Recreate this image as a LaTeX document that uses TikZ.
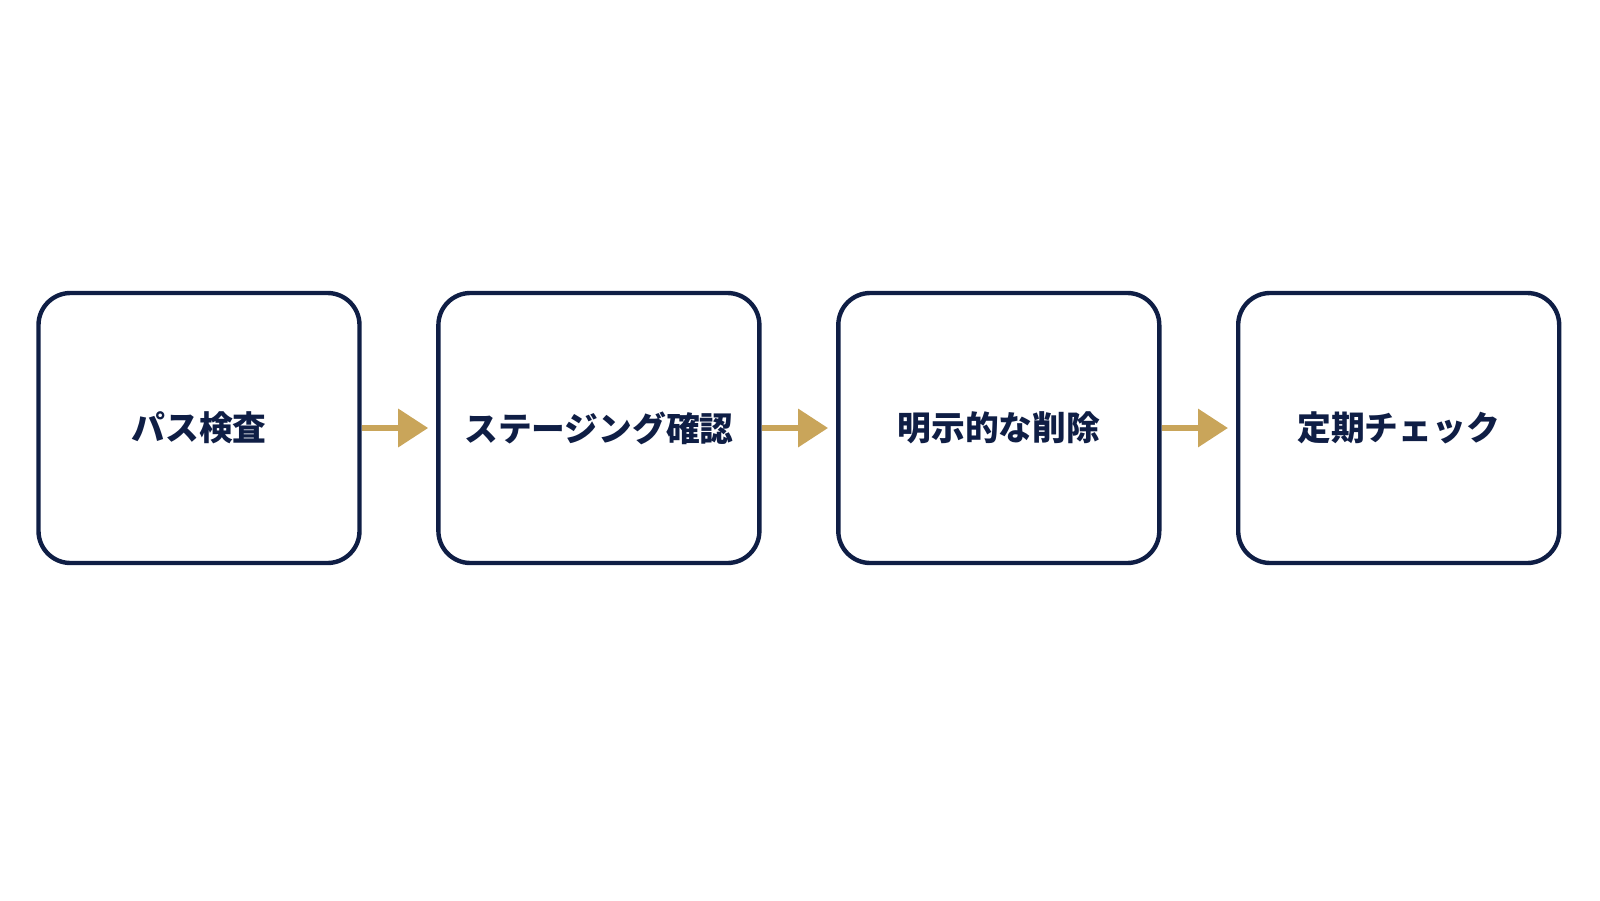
\documentclass[tikz,border=0pt]{standalone}
\usepackage{fontspec}
\newfontfamily\jpfont{Noto Sans CJK JP}
\usetikzlibrary{positioning, arrows.meta}
\definecolor{navy}{HTML}{0F1E45}
\definecolor{gold}{HTML}{C9A55A}
\begin{document}
\begin{tikzpicture}[
            box/.style={rectangle,rounded corners=3.2mm,draw=navy,line width=1.25pt,minimum width=3.21cm,minimum height=2.7cm,
                font=\jpfont\bfseries\fontsize{9.6}{12}\selectfont,text=navy},
            flow/.style={draw=gold,line width=0.65mm,-{Triangle[length=3mm,width=3.7mm]},shorten >=0.8mm}]
            \useasboundingbox (0,0) rectangle (16,9);
            \node[box] (P) at (1.99,4.72){パス検査};
            \node[box,right=0.745cm of P] (S){ステージング確認};
            \node[box,right=0.745cm of S] (D){明示的な削除};
            \node[box,right=0.745cm of D] (C){定期チェック};
            \draw[flow] (P)--(S);
            \draw[flow] (S)--(D);
            \draw[flow] (D)--(C);
        \end{tikzpicture}
\end{document}
